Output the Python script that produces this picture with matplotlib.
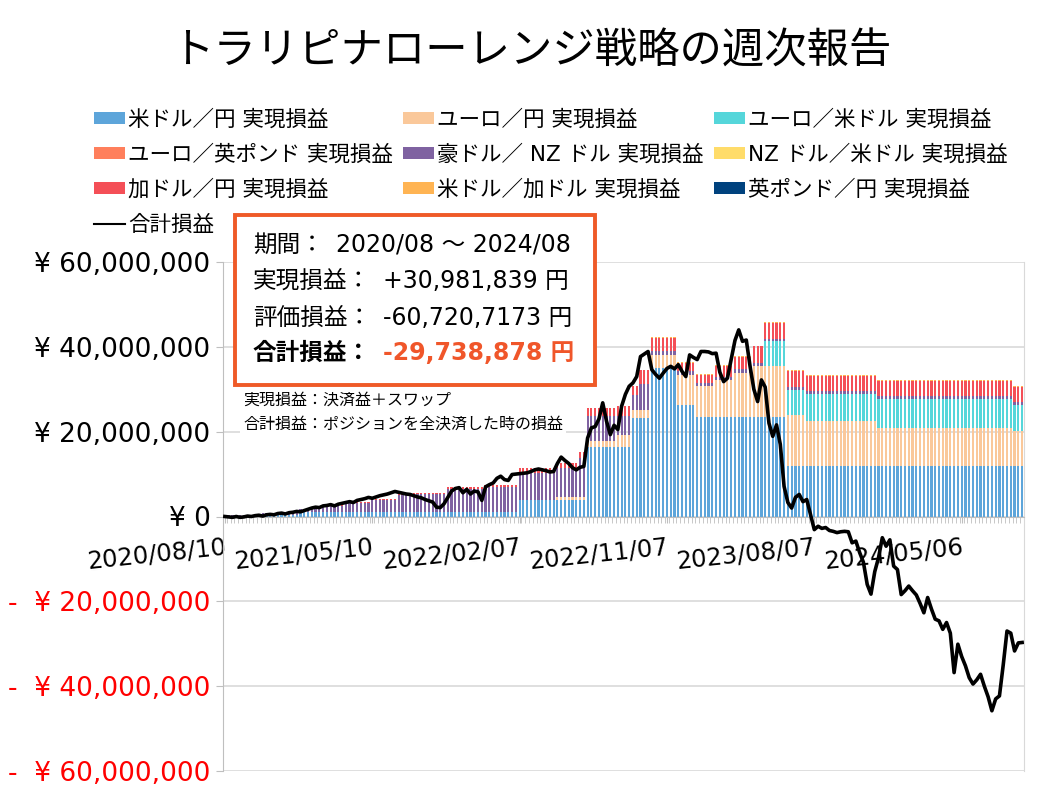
import numpy as np
import pandas as pd
import matplotlib
matplotlib.use("Agg")
import matplotlib.pyplot as plt
from matplotlib.patches import Patch, Rectangle
from matplotlib.lines import Line2D

plt.rcParams['font.family'] = ['DejaVu Sans', 'Noto Sans CJK JP']

# ---------------- data (millions of yen) ----------------
start_date = "2020-08-10"
n_weeks = 212
tick_labels = ["2020/08/10", "2021/05/10", "2022/02/07", "2022/11/07", "2023/08/07", "2024/05/06"]

series_names = ["米ドル／円 実現損益", "ユーロ／円 実現損益", "ユーロ／米ドル 実現損益",
                "ユーロ／英ポンド 実現損益", "豪ドル／ NZ ドル 実現損益", "NZ ドル／米ドル 実現損益",
                "加ドル／円 実現損益", "米ドル／加ドル 実現損益", "英ポンド／円 実現損益"]
series_colors = ["#5DA5DA", "#FAC89A", "#55D6DA", "#FF7F5C", "#7F62A1",
                 "#FFDC6A", "#F44F57", "#FFB453", "#00427E"]

# realized P&L per pair as (value, number of weeks) runs
usd_jpy = [(0.1, 10), (0.4, 10), (1.0, 58), (3.8, 18), (16.3, 12), (23.3, 5),
           (35.0, 7), (26.4, 5), (23.4, 24), (11.8, 63)]
eur_jpy = [(0.0, 88), (0.9, 8), (1.4, 8), (3.0, 4), (1.9, 5), (3.1, 7), (7.0, 5),
           (7.3, 5), (8.8, 5), (10.5, 5), (12.0, 3), (12.0, 6), (12.2, 5),
           (10.6, 19), (9.1, 36), (8.3, 3)]
eur_usd = [(0.0, 143), (5.9, 11), (6.5, 19), (6.8, 36), (6.3, 3)]
eur_gbp = [(0.0, 212)]
aud_nzd = [(0.2, 10), (0.5, 10), (0.8, 6), (1.5, 6), (2.2, 7), (3.0, 7), (4.0, 3),
           (4.2, 10), (5.4, 10), (5.9, 9), (6.5, 10), (6.8, 6), (9.0, 2), (6.1, 8),
           (4.5, 4), (3.5, 2), (6.0, 3), (0.8, 30), (0.6, 6), (0.7, 24), (0.6, 39)]
nzd_usd = [(0.0, 212)]
cad_jpy = [(0.0, 26), (0.1, 6), (0.2, 17), (0.4, 10), (0.6, 19), (1.2, 16), (1.5, 2),
           (1.8, 8), (2.2, 4), (2.0, 2), (3.4, 3), (3.3, 7), (2.0, 5), (1.9, 5),
           (2.5, 5), (3.0, 5), (3.9, 3), (3.7, 6), (3.6, 5), (3.5, 19), (3.6, 36), (3.5, 3)]
usd_cad = [(0.0, 113), (0.2, 36), (0.3, 63)]
gbp_jpy = [(0.0, 212)]

total_pl = [0.0, -0.1, -0.2, 0.0, -0.2, -0.1, 0.1, 0.0, 0.2, 0.3,
            0.1, 0.4, 0.5, 0.4, 0.7, 0.8, 0.6, 0.9, 1.0, 1.2,
            1.1, 1.4, 1.7, 2.0, 2.2, 2.1, 2.5, 2.6, 2.8, 2.5,
            2.9, 3.1, 3.3, 3.5, 3.3, 3.8, 4.0, 4.2, 4.5, 4.3,
            4.6, 4.9, 5.1, 5.3, 5.6, 5.9, 5.7, 5.5, 5.3, 5.2,
            4.9, 4.6, 4.4, 4.0, 3.7, 3.4, 2.2, 2.1, 3.0, 4.5,
            6.0, 6.6, 6.8, 5.6, 6.4, 5.3, 6.0, 5.8, 3.8, 7.0,
            7.5, 7.9, 9.0, 9.5, 8.7, 8.5, 9.9, 10.0, 10.1, 10.2,
            10.3, 10.6, 11.0, 11.2, 11.0, 10.8, 10.5, 10.6, 12.5, 14.0,
            13.2, 12.5, 11.5, 11.0, 11.6, 11.8, 18.5, 20.9, 21.2, 23.0,
            26.8, 22.5, 19.3, 21.5, 20.5, 26.0, 28.8, 30.7, 31.5, 33.0,
            37.7, 38.3, 38.9, 34.6, 33.5, 32.6, 33.8, 34.9, 35.4, 34.8,
            35.8, 34.2, 33.0, 38.1, 37.5, 37.0, 38.9, 38.9, 38.8, 38.4,
            38.5, 34.0, 31.8, 32.6, 37.0, 41.5, 44.0, 41.3, 41.6, 35.4,
            30.0, 27.1, 32.2, 30.5, 22.0, 18.9, 21.6, 17.0, 7.1, 3.3,
            2.0, 4.5, 5.2, 3.5, 4.0, 0.5, -3.1, -2.3, -2.8, -2.6,
            -3.3, -3.5, -3.8, -3.6, -3.5, -3.6, -6.2, -5.8, -8.5, -10.8,
            -16.0, -18.3, -13.0, -9.7, -5.0, -7.0, -5.5, -11.7, -12.5, -18.4,
            -17.5, -16.4, -17.5, -18.5, -20.5, -22.7, -19.1, -21.8, -24.2, -24.6,
            -26.6, -25.0, -27.5, -36.8, -30.1, -33.0, -35.2, -38.0, -39.5, -38.5,
            -37.2, -40.0, -42.5, -45.8, -43.0, -42.3, -35.0, -27.0, -27.5, -31.7,
            -29.8, -29.7]

y_ticks = [-60, -40, -20, 0, 20, 40, 60]
y_tick_labels = ["-  ¥ 60,000,000", "-  ¥ 40,000,000", "-  ¥ 20,000,000", "¥ 0",
                 "¥ 20,000,000", "¥ 40,000,000", "¥ 60,000,000"]

title = "トラリピナローレンジ戦略の週次報告"
box_rows = [("期間：", "2020/08 ～ 2024/08"),
            ("実現損益：", "+30,981,839 円"),
            ("評価損益：", "-60,720,7173 円"),
            ("合計損益：", "-29,738,878 円")]
notes = "実現損益：決済益＋スワップ\n合計損益：ポジションを全決済した時の損益"


def runs(segs):
    return np.concatenate([np.full(n, v, dtype=float) for v, n in segs])


stack = [runs(s) for s in [usd_jpy, eur_jpy, eur_usd, eur_gbp, aud_nzd,
                           nzd_usd, cad_jpy, usd_cad, gbp_jpy]]
dates = pd.date_range(start_date, periods=n_weeks, freq="7D").strftime("%Y/%m/%d").tolist()
x = np.arange(n_weeks)

# ---------------- figure ----------------
W, H = 1058, 794
fig = plt.figure(figsize=(W / 100, H / 100), dpi=100)


def fx(px):
    return px / W


def fy(py):
    return 1 - py / H


ax = fig.add_axes([fx(223), fy(771), fx(1024 - 223), (771 - 262) / H])
ax.spines["bottom"].set_position(("data", 0))
ax.spines["bottom"].set_color("#BFBFBF")
ax.spines["left"].set_color("#BFBFBF")
ax.spines["right"].set_color("#D9D9D9")
ax.spines["top"].set_visible(False)

bottom = np.zeros(n_weeks)
for vals, name, col in zip(stack, series_names, series_colors):
    ax.bar(x, vals * 1e6, bottom=bottom * 1e6, width=0.58, color=col,
           linewidth=0, label=name, zorder=2)
    bottom += vals

ax.plot(x, np.array(total_pl) * 1e6, color="black", lw=2.6, zorder=5,
        solid_joinstyle="round", label="合計損益")

ax.set_xlim(-0.5, n_weeks - 0.5)
ax.set_ylim(-60e6, 60e6)
ax.set_yticks([v * 1e6 for v in y_ticks])
ax.set_yticklabels(y_tick_labels, fontsize=19)
for lbl, v in zip(ax.get_yticklabels(), y_ticks):
    lbl.set_color("#FF0000" if v < 0 else "black")
ax.yaxis.grid(True, color="#D9D9D9", lw=1.2)
ax.set_axisbelow(True)
ax.tick_params(axis="y", length=5, color="#BFBFBF", pad=4)

label_pos = [dates.index(t) for t in tick_labels]
ax.set_xticks(label_pos)
ax.set_xticks(np.arange(-0.5, n_weeks, 1), minor=True)
ax.set_xticklabels(tick_labels, fontsize=17.5, rotation=6, ha="right", va="top",
                   rotation_mode="anchor")
ax.tick_params(axis="x", which="both", length=4, color="#BFBFBF")
ax.tick_params(axis="x", which="major", pad=9)

# title
fig.text(fx(531), fy(52), title, ha="center", va="center", fontsize=30.5)

# legend (row-major order as in the original)
handles = [Patch(facecolor=c, edgecolor="none") for c in series_colors]
handles.append(Line2D([0], [0], color="black", lw=1.5))
labels = series_names + ["合計損益"]
order = [0, 3, 6, 9, 1, 4, 7, 2, 5, 8]
fig.legend([handles[i] for i in order], [labels[i] for i in order],
           loc="upper left", bbox_to_anchor=(fx(94), fy(109)), ncol=3,
           frameon=False, fontsize=15.5, handlelength=1.45, handleheight=0.5,
           handletextpad=0.15, columnspacing=0.45, labelspacing=0.68,
           borderaxespad=0, borderpad=0)

# info box
fig.add_artist(Rectangle((fx(235), fy(385)), fx(360), (385 - 215) / H,
                         transform=fig.transFigure, facecolor="white",
                         edgecolor="#EF5A28", lw=2.8, zorder=10))
row_y = [245, 281, 318, 353]
val_x = [336, 383, 383, 383]
for (lab, val), ry, vx in zip(box_rows, row_y, val_x):
    bold = lab == "合計損益："
    fig.text(fx(253), fy(ry), lab, ha="left", va="center", fontsize=17,
             fontweight="bold" if bold else "normal", zorder=11)
    fig.text(fx(vx), fy(ry), val, ha="left", va="center", fontsize=17,
             fontweight="bold" if bold else "normal",
             color="#F0562A" if bold else "black", zorder=11)

fig.text(fx(243), fy(412), notes, ha="left", va="center", fontsize=11.5,
         linespacing=1.7, zorder=11,
         bbox=dict(facecolor="white", edgecolor="none", pad=2))

fig.savefig("out.png", dpi=100)
